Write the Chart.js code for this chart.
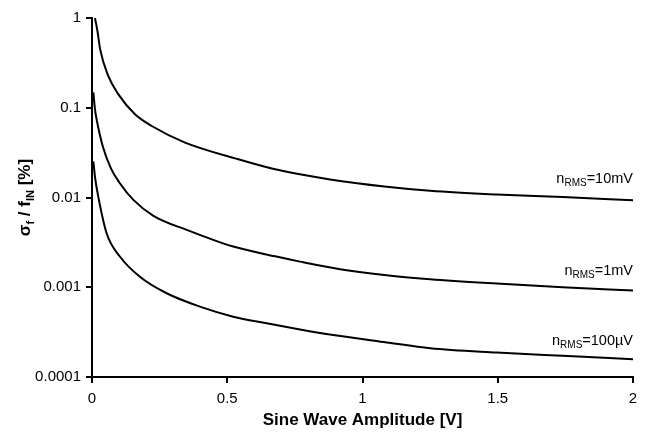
<!DOCTYPE html>
<html>
<head>
<meta charset="utf-8">
<script src="https://cdn.jsdelivr.net/npm/chart.js@4/dist/chart.umd.min.js"></script>
<style>
  html, body { margin: 0; padding: 0; background: #fff; }
  #wrap { width: 647px; height: 436px; }
</style>
</head>
<body>
<div id="wrap"><canvas id="myChart" width="647" height="436"></canvas></div>
<script>
'use strict';

// values
let amp10 = [0.011, 0.021, 0.03, 0.06, 0.097, 0.159, 0.221, 0.344, 0.529, 0.677, 0.88, 1.089, 1.25, 1.496, 1.74, 2.0];
let sig10 = [1.0, 0.69, 0.45, 0.226, 0.142, 0.0846, 0.0626, 0.0409, 0.0273, 0.0206, 0.0159, 0.0132, 0.0119, 0.0108, 0.0101, 0.0093];

let amp1 = [0.005, 0.011, 0.017, 0.04, 0.07, 0.103, 0.153, 0.227, 0.35, 0.522, 0.677, 0.769, 0.917, 1.089, 1.25, 1.496, 1.74, 2.0];
let sig1 = [0.148, 0.096, 0.0744, 0.037, 0.0211, 0.0144, 0.0094, 0.00625, 0.00436, 0.00284, 0.00221, 0.00193, 0.00159, 0.00136, 0.00123, 0.0011, 0.001, 0.00092];

let amp100u = [0.005, 0.011, 0.023, 0.054, 0.103, 0.177, 0.276, 0.399, 0.522, 0.646, 0.769, 0.892, 1.089, 1.25, 1.496, 1.74, 2.0];
let sig100u = [0.0253, 0.017, 0.0103, 0.004, 0.0022, 0.00131, 0.000857, 0.000608, 0.00047, 0.000397, 0.000339, 0.000294, 0.000243, 0.000209, 0.000187, 0.000172, 0.000158];

let yTicks = [1, 0.1, 0.01, 0.001, 0.0001];
let yTickLabels = ['1', '0.1', '0.01', '0.001', '0.0001'];
let xTicks = [0, 0.5, 1, 1.5, 2];

// curve labels: [n, sub, rest], anchored at x=2 and a y value
let curveNames = [['n', 'RMS', '=10mV'], ['n', 'RMS', '=1mV'], ['n', 'RMS', '=100\u00b5V']];
let nameAt = [0.0146, 0.00137, 0.000227];

let font = '"Liberation Sans", Arial, sans-serif';

function toPts(xs, ys) {
    let out = [];
    for (let i = 0; i < xs.length; i++) {
        out.push({ x: xs[i], y: ys[i] });
    }
    return out;
}

function lineSet(label, xs, ys) {
    return {
        label: label,
        data: toPts(xs, ys),
        borderColor: '#000',
        borderWidth: 2,
        pointRadius: 0,
        cubicInterpolationMode: 'monotone',
        fill: false
    };
}

// draws pieces with subscripts (odd pieces are subscripts)
function subText(ctx, parts, y, size, subSize, bold) {
    let w = bold ? 'bold ' : '';
    let big = w + size + 'px ' + font;
    let small = w + subSize + 'px ' + font;
    let widths = [];
    let total = 0;
    for (let i = 0; i < parts.length; i++) {
        ctx.font = (i % 2 === 1) ? small : big;
        let m = ctx.measureText(parts[i]).width;
        widths.push(m);
        total += m;
    }
    return { total: total, draw: function (startX) {
        let cx = startX;
        for (let i = 0; i < parts.length; i++) {
            ctx.font = (i % 2 === 1) ? small : big;
            ctx.fillText(parts[i], cx, (i % 2 === 1) ? y + size * 0.22 : y);
            cx += widths[i];
        }
    } };
}

let extras = {
    id: 'extras',
    afterDraw(chart) {
        let ctx = chart.ctx;
        let xs = chart.scales.x;
        let ys = chart.scales.y;
        ctx.save();
        ctx.fillStyle = '#000';
        ctx.textAlign = 'left';
        ctx.textBaseline = 'alphabetic';
        for (let i = 0; i < curveNames.length; i++) {
            let t = subText(ctx, curveNames[i], ys.getPixelForValue(nameAt[i]), 14.5, 10, false);
            t.draw(xs.getPixelForValue(2) - t.total);
        }
        // y axis title
        ctx.translate(30, (ys.top + ys.bottom) / 2);
        ctx.rotate(-Math.PI / 2);
        let tt = subText(ctx, ['\u03c3', 'f', ' / f', 'IN', ' [%]'], 0, 17, 11, true);
        tt.draw(-tt.total / 2);
        ctx.restore();
    }
};

let ctx = document.getElementById('myChart').getContext('2d');
let myChart = new Chart(ctx, {
    type: 'line',
    data: {
        datasets: [
            lineSet('10mV', amp10, sig10),
            lineSet('1mV', amp1, sig1),
            lineSet('100uV', amp100u, sig100u)
        ]
    },
    options: {
        responsive: false,
        animation: false,
        layout: { padding: { left: 0, top: 18, right: 14, bottom: 0 } },
        plugins: {
            legend: { display: false },
            tooltip: { enabled: false }
        },
        scales: {
            x: {
                type: 'linear',
                min: 0,
                max: 2,
                afterBuildTicks: function (s) { s.ticks = xTicks.map(v => ({ value: v })); },
                afterFit: function (s) { s.height = 59; },
                border: { display: true, color: '#000', width: 2 },
                grid: { drawOnChartArea: false, drawTicks: true, tickLength: 6, color: '#000', lineWidth: 2 },
                ticks: {
                    color: '#000',
                    padding: 7,
                    maxRotation: 0,
                    font: { family: font, size: 15 },
                    callback: function (v) { return String(v); }
                },
                title: {
                    display: true,
                    text: 'Sine Wave Amplitude [V]',
                    color: '#000',
                    padding: { top: 0, bottom: 5 },
                    font: { family: font, size: 17, weight: 'bold' }
                }
            },
            y: {
                type: 'logarithmic',
                min: 0.0001,
                max: 1,
                afterBuildTicks: function (s) { s.ticks = yTicks.map(v => ({ value: v })); },
                afterFit: function (s) { s.width = 92; },
                border: { display: true, color: '#000', width: 2 },
                grid: { drawOnChartArea: false, drawTicks: true, tickLength: 6, color: '#000', lineWidth: 2 },
                ticks: {
                    color: '#000',
                    padding: 5,
                    font: { family: font, size: 15 },
                    callback: function (v) {
                        let i = yTicks.indexOf(v);
                        return i >= 0 ? yTickLabels[i] : '';
                    }
                }
            }
        }
    },
    plugins: [extras]
});
</script>
</body>
</html>
